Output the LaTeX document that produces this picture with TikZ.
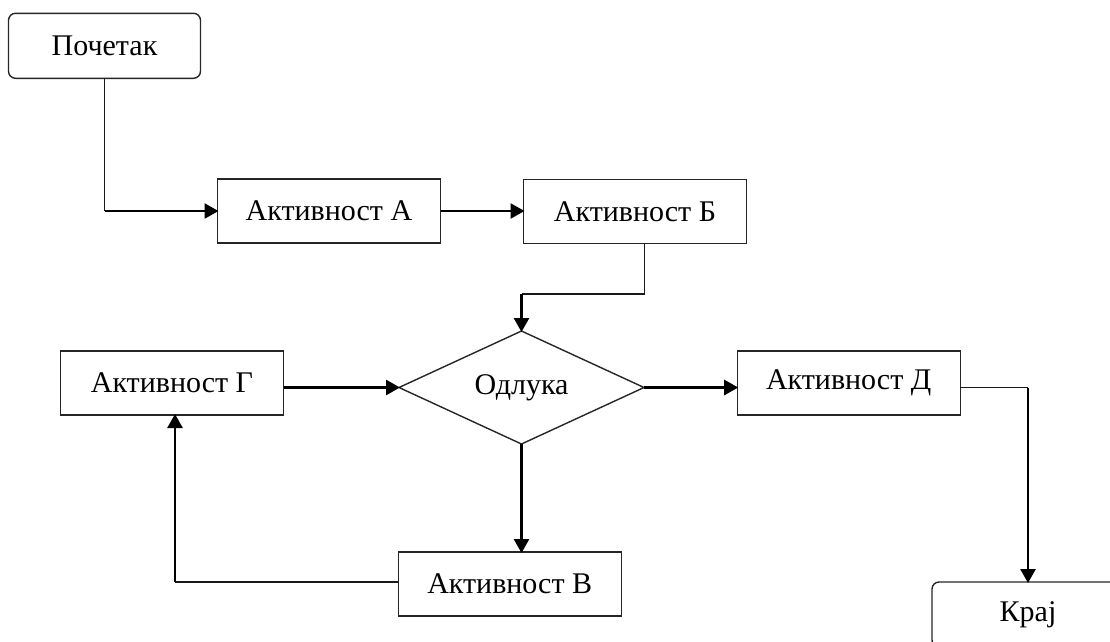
\documentclass[tikz,border=0pt]{standalone}
\usepackage{fontspec}
\setmainfont{Liberation Serif}
\usetikzlibrary{shapes.geometric,arrows.meta}
\begin{document}
\begin{tikzpicture}[x=1pt,y=-1pt,
  font=\fontsize{30}{36}\selectfont,
  every node/.style={inner sep=0pt, outer sep=0pt},
  activity/.style={draw=black!85, line width=1.4pt, rectangle,
    minimum width=223pt, minimum height=64pt},
  terminal/.style={draw=black!85, line width=1.4pt, rectangle, rounded corners=7pt,
    minimum width=192pt, minimum height=65pt},
  decision/.style={draw=black!85, line width=1.4pt, diamond, aspect=2.2,
    minimum width=245pt, minimum height=113pt},
  link/.style={draw=black!90, line width=1.6pt},
  flow/.style={draw=black, line width=2.6pt,
    -{Triangle[length=14pt,width=15pt]}, shorten >=-1pt}
]
\useasboundingbox (0,0) rectangle (1110,641);

% process steps
\node[terminal] (start) at (104.5,45.8) {Почетак};
\node[activity] (A) at (329,211) {Активност А};
\node[activity] (B) at (635,211.3) {Активност Б};
\node[decision] (D) at (521.5,387.5) {Одлука};
\node[activity] (G) at (172,383) {Активност Г};
\node[activity] (E) at (848.7,383) {Активност Д};
\node[activity] (V) at (509.7,584) {Активност В};
\node[terminal, anchor=north west] (end) at (932,582) {Крај};

% bend points of the elbow connectors
\coordinate (b1) at (start.south |- A.west);
\coordinate (b2) at (644.3,294);
\coordinate (b3) at (D.north |- b2);
\coordinate (b4) at (end.north |- D.east);
\coordinate (b5) at (175,581.7);

% start -> A
\draw[link] (start.south) -- (b1);
\draw[flow] (b1) -- (A.west);
% A -> B
\draw[flow] (A.east |- b1) -- (B.west |- b1);
% B -> decision
\draw[link] (B.south -| b2) -- (b2) -- (b3);
\draw[flow] (b3) -- (D.north);
% G -> decision
\draw[flow] (G.east |- D.west) -- (D.west);
% decision -> E
\draw[flow] (D.east) -- (E.west |- D.east);
% E -> end
\draw[link] (E.east |- b4) -- (b4);
\draw[flow] (b4) -- (end.north);
% decision -> V
\draw[flow] (D.south) -- (D.south |- V.north);
% V -> G
\draw[link] (V.west |- b5) -- (b5);
\draw[flow] (b5) -- (b5 |- G.south);
\end{tikzpicture}
\end{document}
